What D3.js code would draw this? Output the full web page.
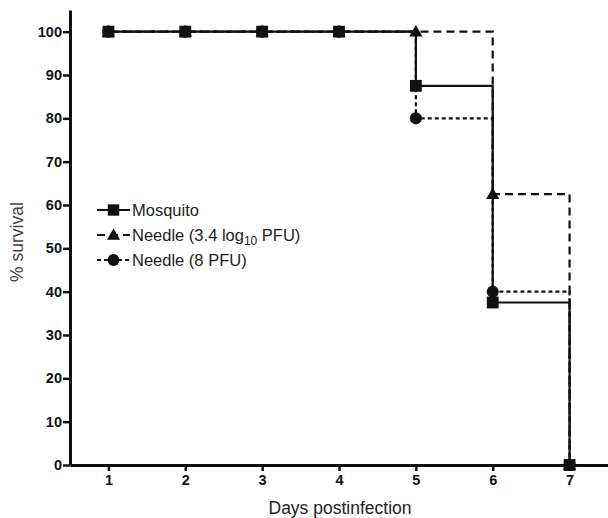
<!DOCTYPE html>
<html>
<head>
<meta charset="utf-8">
<script src="https://cdn.jsdelivr.net/npm/d3@7"></script>
<style>
  body { margin: 0; background: #fff; }
  svg { display: block; font-family: "Liberation Sans", Arial, sans-serif; }
</style>
</head>
<body>
<div id="chart-area"></div>
<script>
// data
let days = [1, 2, 3, 4, 5, 6, 7];
let mosquito = [100, 100, 100, 100, 87.5, 37.5, 0];
let needleHigh = [100, 100, 100, 100, 100, 62.5, 0];
let needleLow = [100, 100, 100, 100, 80, 40, 0];
let yTicks = [0, 10, 20, 30, 40, 50, 60, 70, 80, 90, 100];

let width = 608, height = 518;

let svg = d3.select("#chart-area")
    .append("svg")
        .attr("width", width)
        .attr("height", height);

let x = d3.scaleLinear()
    .domain([0.5, 7.5])
    .range([70, 608]);

let y = d3.scaleLinear()
    .domain([0, 105])
    .range([465, 10]);

// axes
let yAxisCall = d3.axisLeft(y)
    .tickValues(yTicks)
    .tickFormat(d3.format("d"))
    .tickSize(7)
    .tickSizeOuter(0)
    .tickPadding(1);

let yAxis = svg.append("g")
    .attr("class", "y axis")
    .attr("transform", `translate(${x(0.5)}, 0)`)
    .call(yAxisCall);

let xAxisCall = d3.axisBottom(x)
    .tickValues(days)
    .tickFormat(d3.format("d"))
    .tickSize(6)
    .tickSizeOuter(0)
    .tickPadding(4);

let xAxis = svg.append("g")
    .attr("class", "x axis")
    .attr("transform", `translate(0, ${y(0)})`)
    .call(xAxisCall);

[xAxis, yAxis].forEach((a) => {
    a.select(".domain").attr("stroke", "#111").attr("stroke-width", 3);
    a.selectAll(".tick line").attr("stroke", "#111").attr("stroke-width", 2.5);
    a.selectAll(".tick text")
        .attr("fill", "#111")
        .attr("font-size", "14.5px")
        .attr("font-weight", "bold")
        .attr("font-family", "Liberation Sans, Arial, sans-serif");
});

svg.append("text")
    .attr("x", 340)
    .attr("y", 514)
    .attr("font-size", "17.5px")
    .attr("fill", "#222")
    .attr("text-anchor", "middle")
    .text("Days postinfection");

svg.append("text")
    .attr("transform", "translate(23, 242) rotate(-90)")
    .attr("font-size", "17.5px")
    .attr("fill", "#444")
    .attr("text-anchor", "middle")
    .text("% survival");

// series
let series = [
    { name: "low", values: needleLow, dash: "4,3", shape: d3.symbolCircle, size: 115 },
    { name: "high", values: needleHigh, dash: "8,5", shape: d3.symbolTriangle, size: 75 },
    { name: "mosquito", values: mosquito, dash: null, shape: d3.symbolSquare, size: 140 }
];

let line = d3.line()
    .x((d) => x(d.day))
    .y((d) => y(d.value))
    .curve(d3.curveStepAfter);

series.forEach((s) => {
    let pts = days.map((d, i) => ({ day: d, value: s.values[i] }));
    svg.append("path")
        .datum(pts)
        .attr("fill", "none")
        .attr("stroke", "#111")
        .attr("stroke-width", 2.2)
        .attr("stroke-dasharray", s.dash)
        .attr("d", line);
    svg.selectAll(".pt-" + s.name)
        .data(pts)
        .enter()
        .append("path")
            .attr("class", "pt-" + s.name)
            .attr("transform", (d) => `translate(${x(d.day)}, ${y(d.value) + (s.shape === d3.symbolTriangle ? 1 : 0)})`)
            .attr("d", d3.symbol().type(s.shape).size(s.size))
            .attr("fill", "#111");
});

// legend
let legendItems = [
    { label: "Mosquito", dash: null, shape: d3.symbolSquare, size: 130 },
    { label: "Needle (3.4 log", sub: "10", tail: " PFU)", dash: "8,5", shape: d3.symbolTriangle, size: 75 },
    { label: "Needle (8 PFU)", dash: "4,3", shape: d3.symbolCircle, size: 110 }
];

let legend = svg.append("g")
    .attr("transform", "translate(97, 210)");

legendItems.forEach((d, i) => {
    let row = legend.append("g").attr("transform", `translate(0, ${i * 25})`);
    row.append("line")
        .attr("x1", 0).attr("x2", 33)
        .attr("stroke", "#111")
        .attr("stroke-width", 2.2)
        .attr("stroke-dasharray", d.dash);
    row.append("path")
        .attr("transform", `translate(16.5, ${d.shape === d3.symbolTriangle ? 1 : 0})`)
        .attr("d", d3.symbol().type(d.shape).size(d.size))
        .attr("fill", "#111");
    let t = row.append("text")
        .attr("x", 35)
        .attr("y", 6)
        .attr("font-size", "16.5px")
        .attr("fill", "#222")
        .text(d.label);
    if (d.sub) {
        t.append("tspan").attr("font-size", "12px").attr("dy", 4).text(d.sub);
        t.append("tspan").attr("dy", -4).text(d.tail);
    }
});
</script>
</body>
</html>
